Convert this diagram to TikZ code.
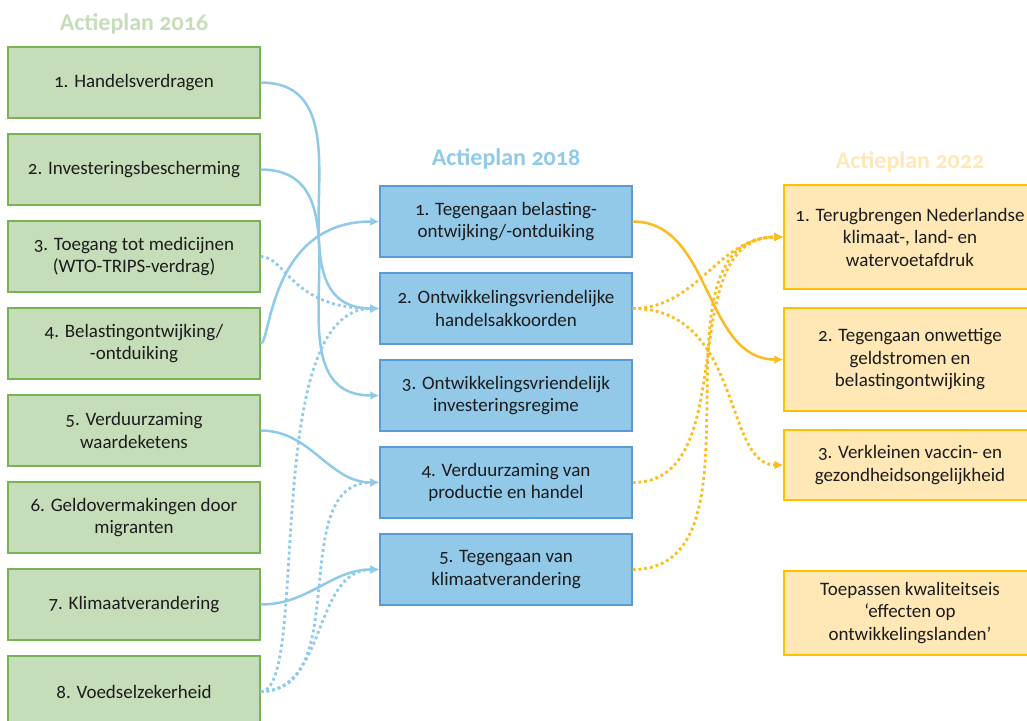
\documentclass[tikz,border=0pt]{standalone}
\usepackage{fontspec}
\setmainfont{Carlito}[Numbers=OldStyle]
\usepackage{tikz}
\usetikzlibrary{positioning, arrows.meta}
\definecolor{greenfill}{RGB}{197, 221, 185}
\definecolor{greenline}{RGB}{122, 178, 86}
\definecolor{bluefill}{RGB}{146, 201, 233}
\definecolor{blueline}{RGB}{91, 155, 213}
\definecolor{bluelink}{RGB}{143, 202, 235}
\definecolor{yellowfill}{RGB}{255, 231, 182}
\definecolor{yellowline}{RGB}{255, 192, 0}
\definecolor{yellowlink}{RGB}{253, 188, 30}
\definecolor{textdark}{RGB}{28, 28, 28}

\begin{document}
\begin{tikzpicture}[x = 1pt, y = -1pt, node distance = 14.6pt,
  state/.style={draw, rectangle, align = center, line width = 1.4pt, minimum width = 252pt, minimum height = 71pt, inner sep = 2pt, text = textdark, font = \fontsize{19}{22.5}\selectfont},
  old/.style={state, fill = greenfill, draw = greenline},
  mid/.style={state, fill = bluefill, draw = blueline},
  new/.style={state, fill = yellowfill, draw = yellowline},
  title/.style={font = \fontsize{24}{27}\selectfont\bfseries},
  link/.style={line width = 2.5pt, out = 0, in = 180, -{Latex[length = 9pt, width = 9pt]}},
  dots/.style={line width = 2.8pt, dash pattern = on 2.8pt off 3pt}]

  \useasboundingbox (0,0) rectangle (1027,720);

  % nodes
  \node [old] (h1) at (134,82.5) {1. Handelsverdragen};
  \node [old][below = of h1] (h2) {2. Investeringsbescherming};
  \node [old][below = of h2] (h3) {3. Toegang tot medicijnen\\(WTO-TRIPS-verdrag)};
  \node [old][below = of h3] (h4) {4. Belastingontwijking/\\-ontduiking};
  \node [old][below = of h4] (h5) {5. Verduurzaming\\waardeketens};
  \node [old][below = of h5] (h6) {6. Geldovermakingen door\\migranten};
  \node [old][below = of h6] (h7) {7. Klimaatverandering};
  \node [old][below = of h7] (h8) {8. Voedselzekerheid};
  \node [title, text = greenfill][above = 8pt of h1] (plan16) {Actieplan 2016};

  \node [mid] (m1) at (506,221.5) {1. Tegengaan belasting-\\ontwijking/-ontduiking};
  \node [mid][below = of m1] (m2) {2. Ontwikkelingsvriendelijke\\handelsakkoorden};
  \node [mid][below = of m2] (m3) {3. Ontwikkelingsvriendelijk\\investeringsregime};
  \node [mid][below = of m3] (m4) {4. Verduurzaming van\\productie en handel};
  \node [mid][below = of m4] (m5) {5. Tegengaan van\\klimaatverandering};
  \node [title, text = bluelink][above = 12pt of m1] (plan18) {Actieplan 2018};

  \node [new, minimum height = 104pt] (n1) at (910,237) {1. Terugbrengen Nederlandse\\klimaat-, land- en\\watervoetafdruk};
  \node [new, minimum height = 103pt][below = 17.6pt of n1] (n2) {2. Tegengaan onwettige\\geldstromen en\\belastingontwijking};
  \node [new, minimum height = 70pt][below = 17.6pt of n2] (n3) {3. Verkleinen vaccin- en\\gezondheidsongelijkheid};
  \node [new, minimum height = 84pt][below = 69.6pt of n3] (n4) {Toepassen kwaliteitseis\\‘effecten op\\ontwikkelingslanden’};
  \node [title, text = yellowfill][above = 8pt of n1] (plan22) {Actieplan 2022};

  % edges
  \draw [link, bluelink, looseness = 1.2] (h1.east) to (m2.west);
  \draw [link, bluelink, looseness = 1.2] (h2.east) to (m3.west);
  \draw [link, bluelink, dots, out distance = 25pt, in distance = 88pt] (h3.east) to (m2.west);
  \draw [link, bluelink, out distance = 10pt, in distance = 110pt] (h4.east) to (m1.west);
  \draw [link, bluelink] (h5.east) to (m4.west);
  \draw [link, bluelink] (h7.east) to (m5.west);
  \draw [link, bluelink, dots, out distance = 50pt, in distance = 120pt] (h8.east) to (m2.west);
  \draw [link, bluelink, dots] (h8.east) to (m4.west);
  \draw [link, bluelink, dots] (h8.east) to (m5.west);

  \draw [link, yellowlink] (m1.east) to (n2.west);
  \draw [link, yellowlink, dots] (m2.east) to (n1.west);
  \draw [link, yellowlink, dots, out distance = 110pt, in distance = 60pt] (m2.east) to (n3.west);
  \draw [link, yellowlink, dots] (m4.east) to (n1.west);
  \draw [link, yellowlink, dots] (m5.east) to (n1.west);
\end{tikzpicture}
\end{document}
